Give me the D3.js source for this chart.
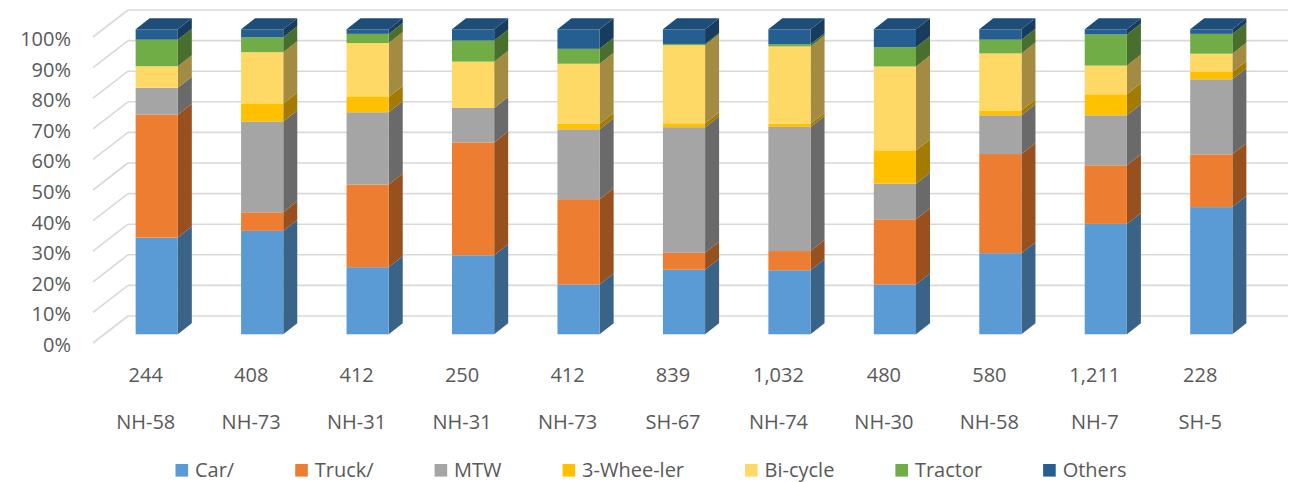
<!DOCTYPE html>
<html><head><meta charset="utf-8">
<script src="https://cdn.jsdelivr.net/npm/d3@7"></script>
<style>html,body{margin:0;padding:0;background:#fff;}svg{display:block;}</style>
</head><body>
<svg id="chart" width="1294" height="482"></svg>
<script>
const counts = ["244","408","412","250","412","839","1,032","480","580","1,211","228"];
const roads = ["NH-58","NH-73","NH-31","NH-31","NH-73","SH-67","NH-74","NH-30","NH-58","NH-7","SH-5"];
const seriesNames = ["Car/","Truck/","MTW","3-Whee-ler","Bi-cycle","Tractor","Others"];
const car     = [31.7,33.9,22.0,25.9,16.3,21.2,21.0,16.3,26.6,36.2,41.7];
const truck   = [40.3, 6.1,27.1,37.0,28.0, 5.5, 6.3,21.4,32.5,19.2,17.3];
const mtw     = [ 8.8,29.8,23.7,11.3,22.9,41.2,40.7,11.7,12.7,16.4,24.6];
const threeW  = [ 0.0, 5.9, 5.0, 0.0, 1.8, 1.3, 1.0,10.9, 1.6, 6.9, 2.4];
const bicycle = [ 7.1,16.8,17.7,15.2,19.7,25.6,25.4,27.5,18.7, 9.4, 6.0];
const tractor = [ 8.7, 4.9, 3.0, 6.9, 4.9, 0.4, 0.7, 6.3, 4.5,10.2, 6.5];
const others  = [ 3.4, 2.6, 1.5, 3.7, 6.4, 4.8, 4.9, 5.9, 3.4, 1.7, 1.5];
const yTicks = [0,10,20,30,40,50,60,70,80,90,100];
const colors = ["#5B9BD5","#ED7D31","#A5A5A5","#FFC000","#FFD966","#70AD47","#255E91"];

const seriesArr = [car,truck,mtw,threeW,bicycle,tractor,others];
const rows = counts.map((c,i)=>{const r={key:i}; seriesNames.forEach((s,j)=>r[s]=seriesArr[j][i]); return r;});
const stack = d3.stack().keys(seriesNames).offset(d3.stackOffsetExpand);
const stacked = stack(rows);

const svg = d3.select("#chart");
const font = "'Open Sans', sans-serif";
const textCol = "#595959";

// 3D geometry
const barDX = 14, barDY = -11;     // bar depth
const yFront = d3.scaleLinear().domain([0,100]).range([343,37]);   // axis front plane
const yBack = d3.scaleLinear().domain([0,100]).range([316,10]);    // back wall
const yBar = d3.scaleLinear().domain([0,1]).range([334.3,29.3]);   // bar front plane
const x = d3.scaleBand().domain(d3.range(counts.length)).range([104,1264]).paddingInner(0.6).paddingOuter(0.3);
const xLabel = d3.scaleBand().domain(d3.range(counts.length)).range([93,1253]).paddingInner(0.6).paddingOuter(0.3);
const xWall0 = 93, xWall1 = 128, xWallEnd = 1288;

// gridlines
const grid = svg.append("g").attr("stroke","#D9D9D9").attr("stroke-width",1.6).attr("fill","none");
yTicks.forEach(t=>{
  grid.append("line").attr("x1",xWall0).attr("y1",yFront(t)).attr("x2",xWall1).attr("y2",yBack(t));
  grid.append("line").attr("x1",xWall1).attr("y1",yBack(t)).attr("x2",xWallEnd).attr("y2",yBack(t));
});

// y labels
svg.append("g").selectAll("text").data(yTicks).join("text")
  .attr("x",71).attr("y",t=>yFront(t)+2).attr("dy","0.35em").attr("text-anchor","end")
  .attr("font-family",font).attr("font-size",20).attr("fill",textCol).text(t=>t+"%");

function shade(c,k){const o=d3.rgb(c); return d3.rgb(o.r*k,o.g*k,o.b*k).formatHex();}

// bars
const bars = svg.append("g");
counts.forEach((c,i)=>{
  const g = bars.append("g");
  const x0 = x(i), x1 = x(i)+x.bandwidth();
  stacked.forEach((s,j)=>{
    const d = s[i]; const yt = yBar(d[1]), yb = yBar(d[0]);
    if (yb - yt <= 0) return;
    g.append("path").attr("d",`M${x1},${yb}L${x1+barDX},${yb+barDY}L${x1+barDX},${yt+barDY}L${x1},${yt}Z`)
      .attr("fill",shade(colors[j],0.64));
    g.append("rect").attr("x",x0).attr("y",yt).attr("width",x1-x0).attr("height",yb-yt)
      .attr("fill",colors[j]);
  });
  let topIdx = seriesNames.length-1;
  while (topIdx>0 && stacked[topIdx][i][1]-stacked[topIdx][i][0] <= 0) topIdx--;
  const yt = yBar(stacked[topIdx][i][1]);
  g.append("path").attr("d",`M${x0},${yt}L${x1},${yt}L${x1+barDX},${yt+barDY}L${x0+barDX},${yt+barDY}Z`)
    .attr("fill",shade(colors[topIdx],0.82));
});

// category labels
const lab = svg.append("g").attr("font-family",font).attr("font-size",20).attr("fill",textCol).attr("text-anchor","middle");
lab.selectAll("text.c").data(counts).join("text").attr("class","c")
  .attr("x",(d,i)=>xLabel(i)+xLabel.bandwidth()/2).attr("y",381.5).text(d=>d);
lab.selectAll("text.r").data(roads).join("text").attr("class","r")
  .attr("x",(d,i)=>xLabel(i)+xLabel.bandwidth()/2).attr("y",429).text(d=>d);

// legend
const leg = svg.append("g");
const items = leg.selectAll("g").data(seriesNames).join("g");
items.append("rect").attr("width",12.6).attr("height",12.6).attr("y",464).attr("fill",(d,i)=>colors[i]);
items.append("text").attr("x",19.5).attr("y",476.5).attr("font-family",font).attr("font-size",20).attr("fill",textCol).text(d=>d);
const widths = [];
items.each(function(){ widths.push(19.5 + d3.select(this).select("text").node().getComputedTextLength()); });
const gap = 61;
const total = d3.sum(widths) + gap*(widths.length-1);
let cx = 651 - total/2;
items.each(function(d,i){ d3.select(this).attr("transform",`translate(${cx},0)`); cx += widths[i] + gap; });
</script>
</body></html>
